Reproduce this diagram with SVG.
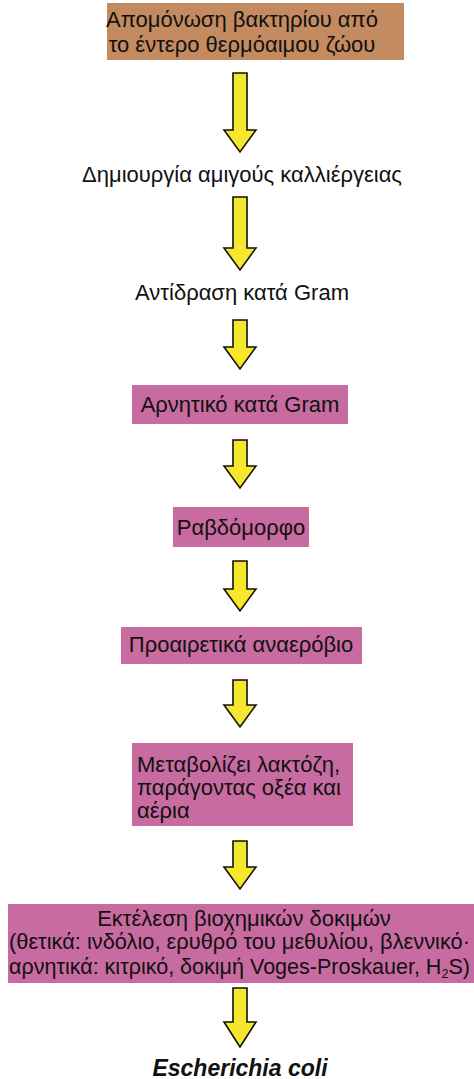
<svg xmlns="http://www.w3.org/2000/svg" width="474" height="1079" viewBox="0 0 474 1079">
<style>
text{font-family:"Liberation Sans","Noto Sans",Arial,sans-serif;font-size:22px;fill:#111}
.c{text-anchor:middle}
.brown{fill:#C48B60}
.pink{fill:#C86BA0}
.arrow{fill:#F6E62C;stroke:#111;stroke-width:1.6;stroke-linejoin:miter}
.bi{font-weight:bold;font-style:italic;font-size:23px}
</style>
<rect width="474" height="1079" fill="#fff"/>
<g id="n1">
<rect class="brown" x="107" y="3" width="297" height="57"/>
<text class="c" x="242" y="27" font-size="21.5">Απομόνωση βακτηρίου από</text>
<text class="c" x="242" y="52" font-size="21.5">το έντερο θερμόαιμου ζώου</text>
</g>
<g id="n2"><text class="c" x="242" y="182">Δημιουργία αμιγούς καλλιέργειας</text></g>
<g id="n3"><text class="c" x="242" y="300" font-size="21">Αντίδραση κατά Gram</text></g>
<g id="n4">
<rect class="pink" x="132" y="385" width="216" height="39"/>
<text class="c" x="240" y="412" font-size="21.5">Αρνητικό κατά Gram</text>
</g>
<g id="n5">
<rect class="pink" x="173" y="507" width="136" height="40"/>
<text class="c" x="241" y="535">Ραβδόμορφο</text>
</g>
<g id="n6">
<rect class="pink" x="121" y="627" width="241" height="37"/>
<text class="c" x="241" y="652">Προαιρετικά αναερόβιο</text>
</g>
<g id="n7">
<rect class="pink" x="132" y="743" width="221" height="83"/>
<text x="137" y="772" font-size="21">Μεταβολίζει λακτόζη,</text>
<text x="137" y="795" font-size="21">παράγοντας οξέα και</text>
<text x="137" y="818" font-size="21">αέρια</text>
</g>
<g id="n8">
<rect class="pink" x="8" y="904" width="466" height="79"/>
<text class="c" x="244" y="926">Εκτέλεση βιοχημικών δοκιμών</text>
<text x="9" y="949" font-size="20.5" textLength="461" lengthAdjust="spacingAndGlyphs">(θετικά: ινδόλιο, ερυθρό του μεθυλίου, βλεννικό·</text>
<text x="9" y="974" font-size="20.5" textLength="461" lengthAdjust="spacingAndGlyphs">αρνητικά: κιτρικό, δοκιμή Voges-Proskauer, H<tspan font-size="13" dy="4">2</tspan><tspan dy="-4">S)</tspan></text>
</g>
<g id="n9"><text class="c bi" x="240" y="1076">Escherichia coli</text></g>
<g id="connectors">
<path class="arrow" d="M233,73H247V130H256L240,152L224,130H233Z"/>
<path class="arrow" d="M233,197H247V248H256L240,270L224,248H233Z"/>
<path class="arrow" d="M233,320H247V347H256L240,369L224,347H233Z"/>
<path class="arrow" d="M233,440H247V466H256L240,488L224,466H233Z"/>
<path class="arrow" d="M233,561H247V589H256L240,611L224,589H233Z"/>
<path class="arrow" d="M233,680H247V705H256L240,727L224,705H233Z"/>
<path class="arrow" d="M233,841H247V867H256L240,889L224,867H233Z"/>
<path class="arrow" d="M233,988H247V1022H256L240,1047L224,1022H233Z"/>
</g>
</svg>
